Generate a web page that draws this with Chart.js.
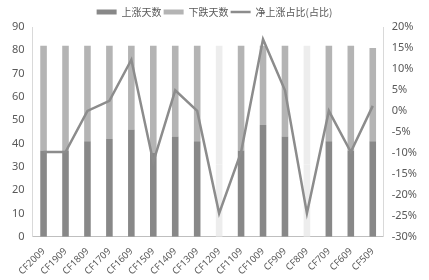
<!DOCTYPE html>
<html>
<head>
<meta charset="utf-8">
<script src="https://cdn.jsdelivr.net/npm/chart.js@4.4.1/dist/chart.umd.min.js"></script>
<style>
  html, body { margin: 0; padding: 0; background: #fff; }
  #wrap { width: 429px; height: 280px; position: relative; }
</style>
</head>
<body>
<div id="wrap"><canvas id="chart"></canvas></div>
<script>
// contracts, newest first
const contracts = ['CF2009', 'CF1909', 'CF1809', 'CF1709', 'CF1609', 'CF1509', 'CF1409', 'CF1309',
  'CF1209', 'CF1109', 'CF1009', 'CF909', 'CF809', 'CF709', 'CF609', 'CF509'];
const upDays = [37, 37, 41, 42, 46, 36, 43, 41, 31, 37, 48, 43, 31, 41, 37, 41];
const downDays = [45, 45, 41, 40, 36, 46, 39, 41, 51, 45, 34, 39, 51, 41, 45, 40];
const netUpPct = [-9.8, -9.8, 0, 2.4, 12.2, -12.2, 4.9, 0, -24.4, -9.8, 17.1, 4.9, -24.4, 0, -9.8, 1.2];
// bars shown washed out in the original
const fadedContracts = ['CF1209', 'CF809'];

const leftTicks = [0, 90, 10];
const rightTicks = [-30, 20, 5];

const DARK = '#888888';
const LIGHT = '#b4b4b4';
const FADED = '#ededed';
const TXT = '#595959';

const upColors = contracts.map(c => fadedContracts.includes(c) ? FADED : DARK);
const downColors = contracts.map(c => fadedContracts.includes(c) ? FADED : LIGHT);

const ctx = document.getElementById('chart').getContext('2d');
new Chart(ctx, {
  type: 'bar',
  data: {
    labels: contracts,
    datasets: [
      {
        label: '上涨天数',
        data: upDays,
        backgroundColor: upColors,
        borderWidth: 0,
        pointStyle: 'rect',
        categoryPercentage: 1,
        barPercentage: 0.3,
        order: 1,
        stack: 's'
      },
      {
        label: '下跌天数',
        data: downDays,
        backgroundColor: downColors,
        borderWidth: 0,
        pointStyle: 'rect',
        categoryPercentage: 1,
        barPercentage: 0.3,
        order: 1,
        stack: 's'
      },
      {
        type: 'line',
        label: '净上涨占比(占比)',
        data: netUpPct,
        yAxisID: 'y1',
        borderColor: '#8c8c8c',
        backgroundColor: '#8c8c8c',
        borderWidth: 2.5,
        pointRadius: 0,
        pointStyle: 'line',
        tension: 0,
        order: 0
      }
    ]
  },
  options: {
    responsive: true,
    maintainAspectRatio: false,
    animation: false,
    layout: { padding: { left: 4, right: 4, top: 5, bottom: -6 } },
    plugins: {
      tooltip: { enabled: false },
      legend: {
        display: true,
        position: 'top',
        labels: {
          usePointStyle: true,
          pointStyleWidth: 20,
          boxWidth: 20,
          boxHeight: 5,
          padding: 2,
          color: TXT,
          font: { family: '"Noto Sans CJK SC", "Noto Sans"', size: 10 },
          sort: (a, b) => a.datasetIndex - b.datasetIndex
        }
      }
    },
    scales: {
      x: {
        stacked: true,
        grid: { display: false, drawTicks: false },
        border: { display: true, color: '#bfbfbf' },
        ticks: {
          color: TXT,
          autoSkip: false,
          minRotation: 45,
          maxRotation: 45,
          padding: 9,
          font: { family: '"Noto Sans", "DejaVu Sans"', size: 9.5 }
        }
      },
      y: {
        stacked: true,
        position: 'left',
        min: leftTicks[0],
        max: leftTicks[1],
        grid: { display: false, drawTicks: false },
        border: { display: true, color: '#d9d9d9' },
        ticks: {
          stepSize: leftTicks[2],
          color: TXT,
          padding: 8,
          font: { family: '"Noto Sans", "DejaVu Sans"', size: 11 }
        }
      },
      y1: {
        position: 'right',
        min: rightTicks[0],
        max: rightTicks[1],
        grid: { display: false, drawTicks: false },
        border: { display: true, color: '#d9d9d9' },
        ticks: {
          stepSize: rightTicks[2],
          color: TXT,
          padding: 8,
          font: { family: '"Noto Sans", "DejaVu Sans"', size: 11 },
          callback: v => v + '%'
        }
      }
    }
  }
});
</script>
</body>
</html>
